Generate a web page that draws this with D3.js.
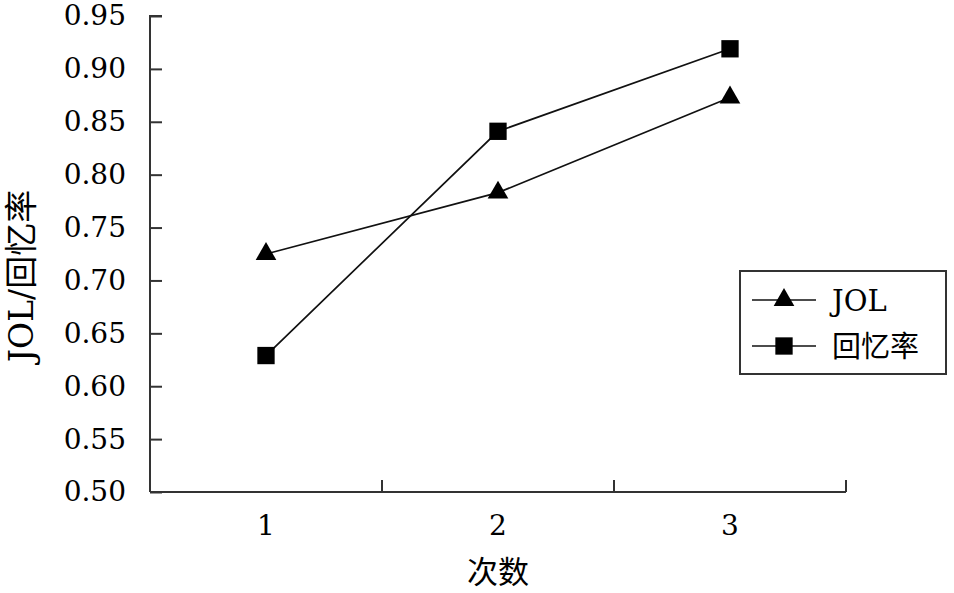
<!DOCTYPE html>
<html><head><meta charset="utf-8">
<script src="https://cdn.jsdelivr.net/npm/d3@7"></script>
<style>body{margin:0;background:#fff}svg{display:block}</style>
</head><body>
<script>
const categories = ["1", "2", "3"];
const jolValues = [0.725, 0.783, 0.873];
const recallValues = [0.629, 0.841, 0.919];
const yTicks = [0.50, 0.55, 0.60, 0.65, 0.70, 0.75, 0.80, 0.85, 0.90, 0.95];
const seriesNames = ["JOL", "回忆率"];
const xTitle = "次数";
const yTitle = "JOL/回忆率";

const W = 954, H = 593;
const m = {left: 150, right: 108, top: 16, bottom: 100};
const svg = d3.select("body").append("svg").attr("width", W).attr("height", H);
const font = "DejaVu Serif, Noto Sans CJK SC, serif";

const x = d3.scaleBand().domain(categories).range([m.left, W - m.right]);
const y = d3.scaleLinear().domain([0.5, 0.95]).range([H - m.bottom - 1, m.top]);

// y axis
const ya = svg.append("g").attr("transform", `translate(${m.left},0)`)
  .call(d3.axisRight(y).tickValues(yTicks).tickSize(12).tickFormat(d3.format(".2f")));
ya.attr("font-family", null);
ya.select(".domain").attr("stroke", "#333").attr("stroke-width", 2).attr("d", `M12,${y(0.95)}H0V${y(0.5)}`);
ya.selectAll(".tick line").attr("stroke", "#333").attr("stroke-width", 2);
ya.selectAll(".tick text").attr("x", -24).attr("text-anchor", "end")
  .style("font-family", font).style("font-size", "28px").attr("fill", "#000");

// x axis
const xa = svg.append("g").attr("transform", `translate(0,${y(0.5)})`)
  .call(d3.axisBottom(x).tickSize(0).tickPadding(19));
xa.attr("font-family", null);
xa.select(".domain").attr("stroke", "#333").attr("stroke-width", 2)
  .attr("d", `M${m.left},0H${W - m.right}`);
xa.selectAll(".tick text").style("font-family", font).style("font-size", "28px").attr("fill", "#000").attr("dy", "0.85em");
// tick marks at band boundaries (inward)
svg.append("g").selectAll("line").data(categories).join("line")
  .attr("x1", d => x(d) + x.bandwidth()).attr("x2", d => x(d) + x.bandwidth())
  .attr("y1", y(0.5)).attr("y2", y(0.5) - 12)
  .attr("stroke", "#333").attr("stroke-width", 2);

// titles
svg.append("text").attr("x", x("2") + x.bandwidth() / 2).attr("y", 583)
  .attr("text-anchor", "middle").style("font-family", font).style("font-size", "31px").attr("fill", "#000").text(xTitle);
svg.append("text").attr("transform", `translate(33,276) rotate(-90)`)
  .attr("text-anchor", "middle").style("font-family", font).style("font-size", "33px").attr("fill", "#000").text(yTitle);

// series
const cx = d => x(d) + x.bandwidth() / 2;
const line = d3.line().x((d, i) => cx(categories[i])).y(d => y(d));
const tri = d3.symbol().type(d3.symbolTriangle).size(185);
const sq = d3.symbol().type(d3.symbolSquare).size(300);

svg.append("path").attr("d", line(jolValues)).attr("fill", "none").attr("stroke", "#111").attr("stroke-width", 1.7);
svg.append("path").attr("d", line(recallValues)).attr("fill", "none").attr("stroke", "#111").attr("stroke-width", 1.7);
svg.append("g").selectAll("path").data(jolValues).join("path")
  .attr("d", tri).attr("transform", (d, i) => `translate(${cx(categories[i])},${y(d)})`).attr("fill", "#000");
svg.append("g").selectAll("path").data(recallValues).join("path")
  .attr("d", sq).attr("transform", (d, i) => `translate(${cx(categories[i])},${y(d)})`).attr("fill", "#000");

// legend
const lg = svg.append("g");
lg.append("rect").attr("x", 740).attr("y", 271).attr("width", 206).attr("height", 103)
  .attr("fill", "#fff").attr("stroke", "#333").attr("stroke-width", 2);
const rows = [{name: seriesNames[0], sym: tri, yy: 300}, {name: seriesNames[1], sym: sq, yy: 346}];
rows.forEach(r => {
  lg.append("line").attr("x1", 752).attr("x2", 816).attr("y1", r.yy).attr("y2", r.yy).attr("stroke", "#111").attr("stroke-width", 1.7);
  lg.append("path").attr("d", r.sym).attr("transform", `translate(784,${r.yy})`).attr("fill", "#000");
  lg.append("text").attr("x", 832).attr("y", r.yy + 11).style("font-family", font).style("font-size", "29px").attr("fill", "#000").text(r.name);
});
</script>
</body></html>
